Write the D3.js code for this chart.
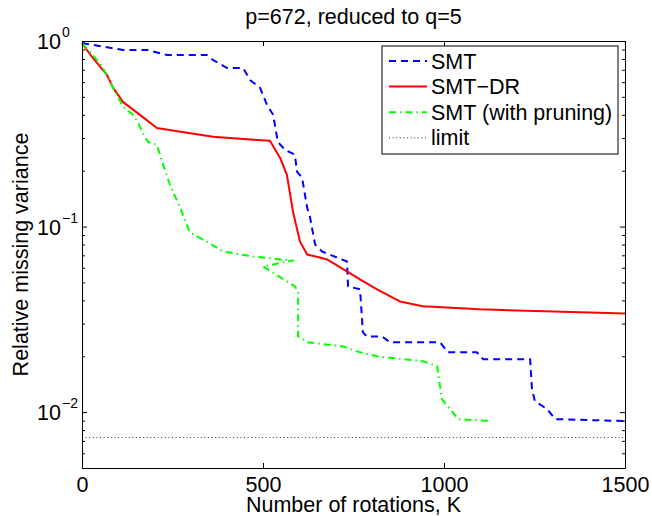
<!DOCTYPE html>
<html>
<head>
<meta charset="utf-8">
<script src="https://cdn.jsdelivr.net/npm/d3@7"></script>
<style>
  body { margin: 0; background: #fff; }
  svg { display: block; font-family: "Liberation Sans", Arial, Helvetica, sans-serif; }
  text { fill: #000; }
</style>
</head>
<body>
<svg class="main" width="652" height="516"></svg>
<script>
// values
const smtK = [0, 58, 113, 180, 235, 345, 362, 400, 445, 464, 492, 511, 528, 541, 561, 588, 594, 608, 622, 630, 644, 663, 732, 735, 768, 776, 787, 829, 851, 989, 1011, 1091, 1108, 1238, 1243, 1251, 1285, 1307, 1500];
const smtV = [0.975, 0.932, 0.895, 0.895, 0.841, 0.841, 0.79, 0.716, 0.716, 0.617, 0.559, 0.453, 0.40, 0.286, 0.259, 0.244, 0.198, 0.183, 0.1265, 0.112, 0.080, 0.0734, 0.0648, 0.0476, 0.0459, 0.0269, 0.0256, 0.0256, 0.0238, 0.0238, 0.0210, 0.0210, 0.0193, 0.0193, 0.0133, 0.01146, 0.01038, 0.00917, 0.00895];

const drK = [0, 30, 69, 86, 113, 160, 207, 290, 362, 436, 519, 547, 566, 583, 602, 622, 657, 677, 768, 815, 878, 942, 1099, 1500];
const drV = [0.97, 0.81, 0.656, 0.559, 0.47, 0.40, 0.34, 0.32, 0.305, 0.297, 0.29, 0.235, 0.19, 0.12, 0.083, 0.0707, 0.0681, 0.0665, 0.0519, 0.0459, 0.0395, 0.0372, 0.0358, 0.034];

const pruneK = [0, 30, 58, 77, 97, 113, 141, 155, 166, 182, 207, 221, 243, 271, 298, 345, 390, 472, 547, 583, 500, 588, 597, 597, 624, 721, 768, 815, 942, 981, 989, 994, 1022, 1039, 1133];
const pruneV = [0.97, 0.841, 0.716, 0.602, 0.512, 0.442, 0.40, 0.362, 0.324, 0.286, 0.276, 0.224, 0.168, 0.1265, 0.0929, 0.083, 0.0734, 0.069, 0.0665, 0.0656, 0.061, 0.0476, 0.0447, 0.0256, 0.0238, 0.0226, 0.021, 0.02, 0.0188, 0.0177, 0.0138, 0.01175, 0.0101, 0.00917, 0.00895];

const limitV = 0.0073;

const xTicks = [0, 500, 1000, 1500];
const yMajor = [1, 0.1, 0.01];
const yMinor = [0.005, 0.006, 0.007, 0.008, 0.009, 0.02, 0.03, 0.04, 0.05, 0.06, 0.07, 0.08, 0.09, 0.2, 0.3, 0.4, 0.5, 0.6, 0.7, 0.8, 0.9];
const yExp = ["0", "\u22121", "\u22122"];

const labels = ["SMT", "SMT\u2212DR", "SMT (with pruning)", "limit"];
const colors = ["#0000ff", "#ff0000", "#00ff00", "#333"];
const dashes = ["7,5", null, "7,4,1.5,4", "1,2.6"];
const widths = [2, 2, 2, 1];

const svg = d3.select(".main");
const pLeft = 82, pRight = 625, pTop = 41, pBottom = 468;

const x = d3.scaleLinear().domain([0, 1500]).range([pLeft, pRight]);
const y = d3.scaleLog().domain([0.005, 1]).range([pBottom, pTop]);

const series = [
  d3.zip(smtK, smtV),
  d3.zip(drK, drV),
  d3.zip(pruneK, pruneV),
  [[0, limitV], [1500, limitV]]
];

const line = d3.line().x(d => x(d[0])).y(d => y(d[1]));

// curves
svg.append("g")
  .selectAll("path")
  .data(series)
  .join("path")
  .attr("d", line)
  .attr("fill", "none")
  .attr("stroke", (d, i) => colors[i])
  .attr("stroke-width", (d, i) => widths[i])
  .attr("stroke-dasharray", (d, i) => dashes[i])
  .attr("stroke-linejoin", "round");

// axes, ticks pointing inward
const fontSize = 21.5;

const xAxis = svg.append("g")
  .attr("transform", `translate(0,${pBottom})`)
  .call(d3.axisBottom(x).tickValues(xTicks).tickFormat(d3.format("d"))
    .tickSizeInner(-5).tickSizeOuter(0).tickPadding(9));
xAxis.selectAll("text").attr("font-size", fontSize).attr("font-family", "inherit");

svg.append("g")
  .attr("transform", `translate(0,${pTop})`)
  .call(d3.axisTop(x).tickValues(xTicks).tickSizeInner(-5).tickSizeOuter(0).tickFormat(""));

const yAxis = svg.append("g")
  .attr("transform", `translate(${pLeft},0)`)
  .call(d3.axisLeft(y).tickValues(yMajor).tickSizeInner(-5).tickSizeOuter(0).tickFormat(""));

svg.append("g")
  .attr("transform", `translate(${pLeft},0)`)
  .call(d3.axisLeft(y).tickValues(yMinor).tickSizeInner(-3).tickSizeOuter(0).tickFormat(""))
  .select(".domain").remove();

svg.append("g")
  .attr("transform", `translate(${pRight},0)`)
  .call(d3.axisRight(y).tickValues(yMajor).tickSizeInner(-5).tickSizeOuter(0).tickFormat(""));

svg.append("g")
  .attr("transform", `translate(${pRight},0)`)
  .call(d3.axisRight(y).tickValues(yMinor).tickSizeInner(-3).tickSizeOuter(0).tickFormat(""))
  .select(".domain").remove();

svg.selectAll(".domain, .tick line").attr("stroke", "#000").attr("stroke-width", 1);

// log tick labels: 10 with superscript exponent
const yLab = yAxis.selectAll(".tick").append("g").attr("font-family", "inherit");
yLab.append("text")
  .attr("x", -21).attr("y", 7.5)
  .attr("text-anchor", "end")
  .attr("font-size", fontSize)
  .text("10");
yLab.append("text")
  .attr("x", -20).attr("y", -4.5)
  .attr("text-anchor", "start")
  .attr("font-size", 14)
  .text((d, i) => yExp[i]);

// titles
svg.append("text")
  .attr("x", (pLeft + pRight) / 2).attr("y", 24)
  .attr("text-anchor", "middle")
  .attr("font-size", fontSize)
  .text("p=672, reduced to q=5");

svg.append("text")
  .attr("x", (pLeft + pRight) / 2).attr("y", 512)
  .attr("text-anchor", "middle")
  .attr("font-size", fontSize)
  .text("Number of rotations, K");

svg.append("text")
  .attr("transform", `translate(28,${(pTop + pBottom) / 2}) rotate(-90)`)
  .attr("text-anchor", "middle")
  .attr("font-size", fontSize)
  .text("Relative missing variance");

// legend
const legend = svg.append("g").attr("transform", "translate(382,46)");
legend.append("rect")
  .attr("width", 236).attr("height", 108)
  .attr("fill", "#fff").attr("stroke", "#000").attr("stroke-width", 1);

const item = legend.selectAll(".item")
  .data(labels)
  .join("g")
  .attr("class", "item")
  .attr("transform", (d, i) => `translate(0,${15 + i * 25.6})`);

item.append("line")
  .attr("x1", 7).attr("x2", 45)
  .attr("stroke", (d, i) => colors[i])
  .attr("stroke-width", (d, i) => widths[i])
  .attr("stroke-dasharray", (d, i) => dashes[i]);

item.append("text")
  .attr("x", 49).attr("y", 7.5)
  .attr("font-size", fontSize)
  .text(d => d);
</script>
</body>
</html>
